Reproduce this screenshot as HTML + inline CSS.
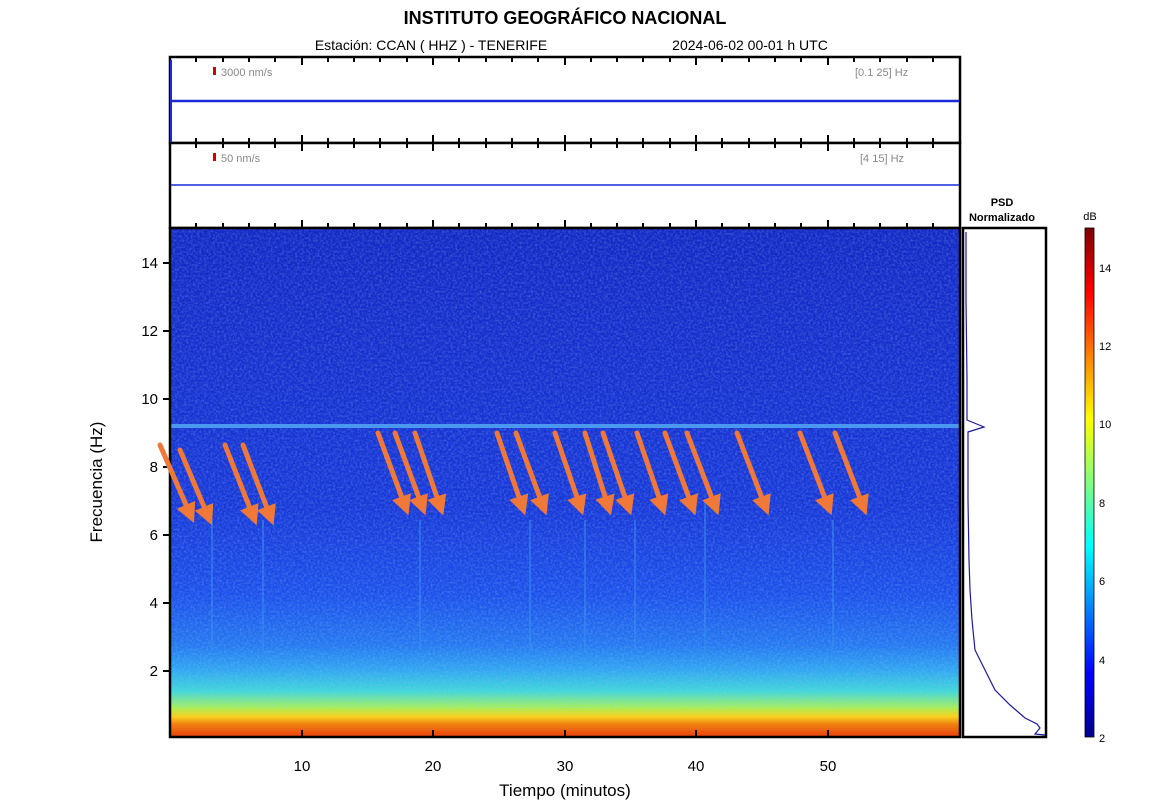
<!DOCTYPE html>
<html><head><meta charset="utf-8"><style>
body{margin:0;background:#fff;}
svg{display:block;font-family:"Liberation Sans",sans-serif;}
</style></head><body>
<svg width="1154" height="806" viewBox="0 0 1154 806" xmlns="http://www.w3.org/2000/svg">
<defs>
<linearGradient id="spec" x1="0" y1="0" x2="0" y2="1">
<stop offset="0" stop-color="#1428c4"/>
<stop offset="0.55" stop-color="#1838d8"/>
<stop offset="0.72" stop-color="#1c50ea"/>
<stop offset="0.82" stop-color="#2478f0"/>
<stop offset="0.87" stop-color="#30a8f0"/>
<stop offset="0.91" stop-color="#40d8d8"/>
<stop offset="0.94" stop-color="#a0f060"/>
<stop offset="0.96" stop-color="#f8d020"/>
<stop offset="0.975" stop-color="#f08010"/>
<stop offset="1" stop-color="#e84010"/>
</linearGradient>
<linearGradient id="jet" x1="0" y1="1" x2="0" y2="0">
<stop offset="0" stop-color="#00008f"/>
<stop offset="0.125" stop-color="#0000ff"/>
<stop offset="0.375" stop-color="#00ffff"/>
<stop offset="0.625" stop-color="#ffff00"/>
<stop offset="0.875" stop-color="#ff0000"/>
<stop offset="1" stop-color="#800000"/>
</linearGradient>
<filter id="noise" x="0" y="0" width="100%" height="100%">
<feTurbulence type="fractalNoise" baseFrequency="0.45" numOctaves="2" seed="3"/>
<feColorMatrix values="0 0 0 0 0.3  0 0 0 0 0.55  0 0 0 0 1  0 0 0 1.5 -0.55"/>
</filter>
<marker id="ah" markerWidth="4" markerHeight="4" refX="2" refY="2" orient="auto" markerUnits="strokeWidth">
<path d="M0,0 L4,2 L0,4 z" fill="#f07838"/>
</marker>
</defs>

<text x="565" y="24" font-size="18" font-weight="bold" text-anchor="middle">INSTITUTO GEOGRÁFICO NACIONAL</text>
<text x="431" y="50" font-size="14" text-anchor="middle">Estación:  CCAN ( HHZ ) - TENERIFE</text>
<text x="750" y="50" font-size="14" text-anchor="middle">2024-06-02  00-01 h UTC</text>

<rect x="170" y="57" width="790" height="86" fill="#fff" stroke="#000" stroke-width="2.5"/>
<rect x="170" y="143" width="790" height="85" fill="#fff" stroke="#000" stroke-width="2.5"/>
<g stroke="#000" stroke-width="2">
<path d="M196,57v5M223,57v5M249,57v5M275,57v5M302,57v8M328,57v5M354,57v5M380,57v5M407,57v5M433,57v8M459,57v5M486,57v5M512,57v5M538,57v5M565,57v8M591,57v5M617,57v5M643,57v5M670,57v5M696,57v8M722,57v5M749,57v5M775,57v5M801,57v5M828,57v8M854,57v5M880,57v5M907,57v5M933,57v5"/>
<path d="M196,143v-5M223,143v-5M249,143v-5M275,143v-5M302,143v-8M328,143v-5M354,143v-5M380,143v-5M407,143v-5M433,143v-8M459,143v-5M486,143v-5M512,143v-5M538,143v-5M565,143v-8M591,143v-5M617,143v-5M643,143v-5M670,143v-5M696,143v-8M722,143v-5M749,143v-5M775,143v-5M801,143v-5M828,143v-8M854,143v-5M880,143v-5M907,143v-5M933,143v-5"/>
<path d="M196,143v5M223,143v5M249,143v5M275,143v5M302,143v8M328,143v5M354,143v5M380,143v5M407,143v5M433,143v8M459,143v5M486,143v5M512,143v5M538,143v5M565,143v8M591,143v5M617,143v5M643,143v5M670,143v5M696,143v8M722,143v5M749,143v5M775,143v5M801,143v5M828,143v8M854,143v5M880,143v5M907,143v5M933,143v5"/>
<path d="M196,228v-5M223,228v-5M249,228v-5M275,228v-5M302,228v-8M328,228v-5M354,228v-5M380,228v-5M407,228v-5M433,228v-8M459,228v-5M486,228v-5M512,228v-5M538,228v-5M565,228v-8M591,228v-5M617,228v-5M643,228v-5M670,228v-5M696,228v-8M722,228v-5M749,228v-5M775,228v-5M801,228v-5M828,228v-8M854,228v-5M880,228v-5M907,228v-5M933,228v-5"/>
</g>
<rect x="213" y="67" width="3" height="8" fill="#c00"/>
<text x="221" y="76" font-size="11" fill="#888">3000 nm/s</text>
<text x="855" y="76" font-size="11" fill="#888">[0.1 25] Hz</text>
<rect x="213" y="153" width="3" height="8" fill="#c00"/>
<text x="221" y="162" font-size="11" fill="#888">50 nm/s</text>
<text x="860" y="162" font-size="11" fill="#888">[4 15] Hz</text>
<line x1="171" y1="101" x2="959" y2="101" stroke="#1a2ad8" stroke-width="2.5"/>
<line x1="171" y1="185" x2="959" y2="185" stroke="#1a2ad8" stroke-width="1.5"/>
<line x1="171" y1="60" x2="171" y2="142" stroke="#1a2ad8" stroke-width="2"/>

<rect x="171" y="228" width="789" height="509" fill="url(#spec)"/>
<rect x="171" y="228" width="789" height="480" filter="url(#noise)" opacity="0.4"/>
<g stroke="#3a90f0" stroke-width="2" opacity="0.5">
<line x1="212" y1="520" x2="212" y2="650"/><line x1="263" y1="520" x2="263" y2="650"/><line x1="420" y1="520" x2="420" y2="650"/>
<line x1="530" y1="520" x2="530" y2="650"/><line x1="585" y1="520" x2="585" y2="650"/><line x1="635" y1="520" x2="635" y2="650"/>
<line x1="705" y1="500" x2="705" y2="660"/><line x1="833" y1="520" x2="833" y2="650"/>
</g>
<rect x="170" y="424" width="790" height="4" fill="#4a98f0"/>
<rect x="170" y="228" width="790" height="509" fill="none" stroke="#000" stroke-width="2.5"/>

<g stroke="#000" stroke-width="2">
<line x1="302" y1="737" x2="302" y2="730"/><line x1="433" y1="737" x2="433" y2="730"/><line x1="565" y1="737" x2="565" y2="730"/><line x1="696" y1="737" x2="696" y2="730"/><line x1="828" y1="737" x2="828" y2="730"/>
<line x1="170" y1="263" x2="163" y2="263"/><line x1="170" y1="331" x2="163" y2="331"/><line x1="170" y1="399" x2="163" y2="399"/><line x1="170" y1="467" x2="163" y2="467"/><line x1="170" y1="535" x2="163" y2="535"/><line x1="170" y1="603" x2="163" y2="603"/><line x1="170" y1="671" x2="163" y2="671"/>
</g>
<g font-size="15" text-anchor="end">
<text x="158" y="268">14</text><text x="158" y="336">12</text><text x="158" y="404">10</text><text x="158" y="472">8</text><text x="158" y="540">6</text><text x="158" y="608">4</text><text x="158" y="676">2</text>
</g>
<g font-size="15" text-anchor="middle">
<text x="302" y="771">10</text><text x="433" y="771">20</text><text x="565" y="771">30</text><text x="696" y="771">40</text><text x="828" y="771">50</text>
</g>
<text x="565" y="796" font-size="17" text-anchor="middle">Tiempo (minutos)</text>
<text transform="translate(102,482) rotate(-90)" font-size="17" text-anchor="middle">Frecuencia (Hz)</text>

<g stroke="#f07838" stroke-width="5" marker-end="url(#ah)" stroke-linecap="round">
<line x1="160" y1="445" x2="190" y2="514"/>
<line x1="180" y1="450" x2="208" y2="516"/>
<line x1="225" y1="445" x2="253" y2="516"/>
<line x1="243" y1="445" x2="270" y2="516"/>
<line x1="378" y1="433" x2="405" y2="506"/>
<line x1="395" y1="433" x2="422" y2="506"/>
<line x1="415" y1="433" x2="440" y2="506"/>
<line x1="497" y1="433" x2="522" y2="506"/>
<line x1="516" y1="433" x2="543" y2="506"/>
<line x1="555" y1="433" x2="580" y2="506"/>
<line x1="585" y1="433" x2="608" y2="506"/>
<line x1="603" y1="433" x2="628" y2="506"/>
<line x1="637" y1="433" x2="662" y2="506"/>
<line x1="665" y1="433" x2="692" y2="506"/>
<line x1="687" y1="433" x2="715" y2="506"/>
<line x1="737" y1="433" x2="765" y2="506"/>
<line x1="800" y1="433" x2="828" y2="506"/>
<line x1="835" y1="433" x2="863" y2="506"/>
</g>

<text x="1002" y="206" font-size="11" font-weight="bold" text-anchor="middle">PSD</text>
<text x="1002" y="221" font-size="11" font-weight="bold" text-anchor="middle">Normalizado</text>
<rect x="963" y="228" width="83" height="509" fill="#fff" stroke="#000" stroke-width="2.5"/>
<polyline fill="none" stroke="#1a1a9a" stroke-width="1.2" points="966,232 966,300 967,380 967,420 984,427 968,432 968,500 969,560 970,590 972,620 975,650 985,670 995,690 1010,705 1025,718 1037,724 1040,728 1035,734 1045,735"/>

<text x="1090" y="220" font-size="11" text-anchor="middle">dB</text>
<rect x="1085" y="228" width="9" height="509" fill="url(#jet)" stroke="#000" stroke-width="0.8"/>
<g font-size="11">
<text x="1099" y="272">14</text><text x="1099" y="350">12</text><text x="1099" y="428">10</text><text x="1099" y="507">8</text><text x="1099" y="585">6</text><text x="1099" y="664">4</text><text x="1099" y="742">2</text>
</g>
</svg>
</body></html>
